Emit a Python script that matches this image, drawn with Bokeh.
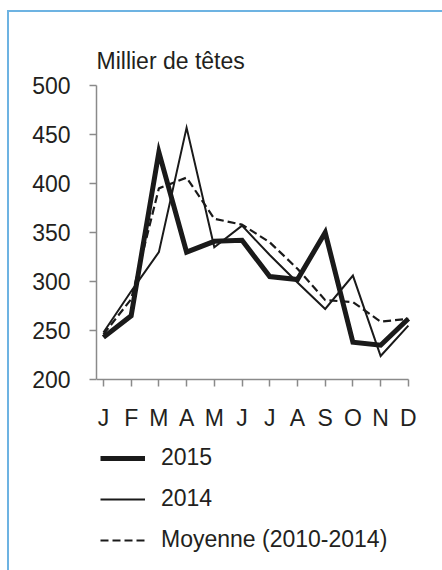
from bokeh.plotting import figure
from bokeh.models import Range1d, Legend, LegendItem, FixedTicker
from bokeh.embed import file_html
from bokeh.resources import INLINE

months = ["J", "F", "M", "A", "M", "J", "J", "A", "S", "O", "N", "D"]
y2015 = [243, 265, 432, 330, 341, 342, 305, 302, 350, 238, 235, 262]
y2014 = [248, 290, 330, 457, 335, 357, 327, 299, 272, 306, 224, 255]
ymoy = [246, 282, 395, 406, 364, 358, 340, 313, 281, 279, 259, 262]
yticks = [200, 250, 300, 350, 400, 450, 500]
series_names = ["2015", "2014", "Moyenne (2010-2014)"]

FONT = "Liberation Sans"
TXT = "#231f20"
AX = "#8a8a8a"
xs = list(range(len(months)))
X0, X1 = -0.25, len(months) - 1 + 0.33

# the frame extends below the value axis so that the legend fits inside it
p = figure(frame_width=321, frame_height=490, x_range=Range1d(X0, X1),
           y_range=Range1d(0, yticks[-1]),
           output_backend="svg", toolbar_location=None,
           min_border_left=87, min_border_right=25, min_border_top=73,
           min_border_bottom=10, title="Millier de têtes")
p.styles = {"border-top": "2px solid #6db3e2", "border-left": "2px solid #6db3e2",
            "margin-left": "7px", "margin-top": "10px"}
p.outline_line_color = None
p.grid.visible = False
p.background_fill_color = "white"
p.border_fill_color = "white"

p.title.text_font = FONT
p.title.text_font_size = "23px"
p.title.text_font_style = "normal"
p.title.text_color = TXT
p.title.align = "left"
p.title.offset = 0
p.title.standoff = 24

for ax in (p.xaxis[0], p.yaxis[0]):
    ax.axis_line_color = AX
    ax.axis_line_width = 1.5
    ax.major_tick_line_color = AX
    ax.major_tick_line_width = 1.5
    ax.major_tick_in = 0
    ax.major_tick_out = 7
    ax.minor_tick_line_color = None
    ax.major_label_text_font = FONT
    ax.major_label_text_font_size = "23px"
    ax.major_label_text_color = TXT

p.xaxis.ticker = FixedTicker(ticks=xs)
p.xaxis.major_label_overrides = {i: m for i, m in enumerate(months)}
p.xaxis.major_label_standoff = 18
p.xaxis.fixed_location = yticks[0]
p.xaxis.bounds = (X0, len(months) - 1)
p.yaxis.ticker = FixedTicker(ticks=yticks)
p.yaxis.bounds = (yticks[0], yticks[-1])
p.yaxis.major_label_standoff = 19

r15 = p.line(xs, y2015, line_color="#1a1a1a", line_width=5, line_join="miter")
r14 = p.line(xs, y2014, line_color="#1a1a1a", line_width=2, line_join="miter")
rmo = p.line(xs, ymoy, line_color="#1a1a1a", line_width=2.2, line_dash="8 4")

legend = Legend(items=[LegendItem(label=series_names[0], renderers=[r15]),
                       LegendItem(label=series_names[1], renderers=[r14]),
                       LegendItem(label=series_names[2], renderers=[rmo])],
                location=(4, 22), orientation="vertical",
                glyph_width=45, glyph_height=24, label_height=24,
                spacing=14, padding=2, margin=0, label_standoff=16,
                border_line_color=None, background_fill_alpha=0,
                label_text_font=FONT, label_text_font_size="23px",
                label_text_color=TXT)
p.add_layout(legend, "center")

open("out.html", "w").write(file_html(p, INLINE))
